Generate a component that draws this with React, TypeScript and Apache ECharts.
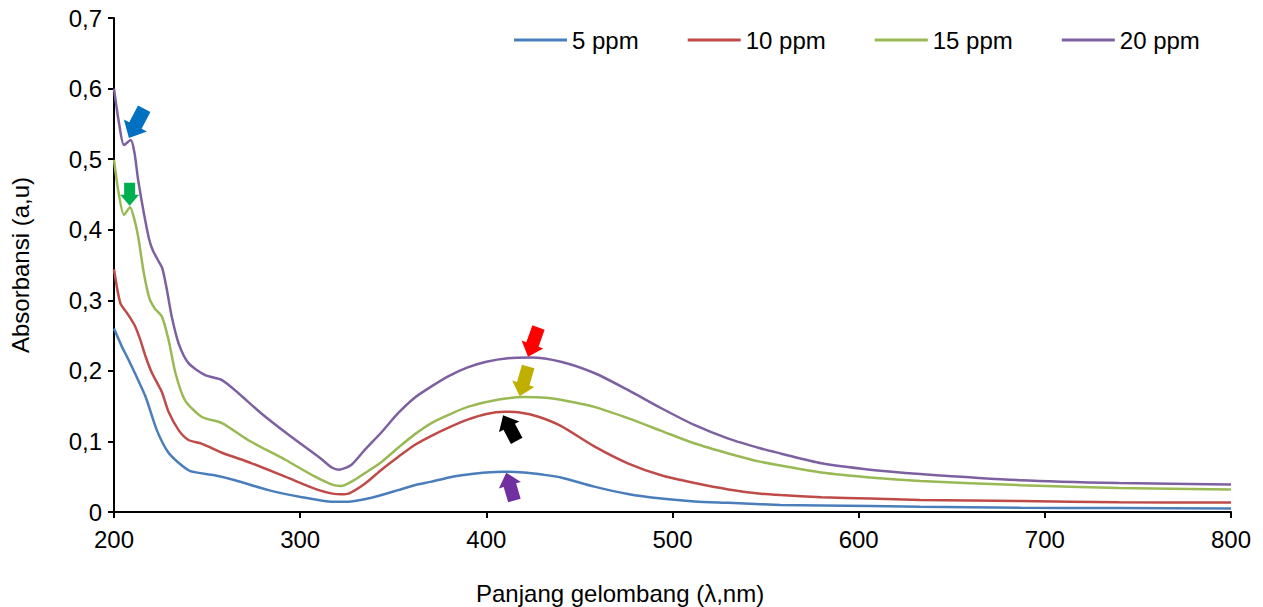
import React, { useEffect, useRef } from "react";
import * as echarts from "echarts";

// Wavelength (nm), absorbance (a.u.) pairs
const ppm5: [number, number][] = [
  [200, 0.26], [204.3, 0.234], [207, 0.22], [211, 0.198], [217, 0.163], [223, 0.116],
  [229, 0.085], [235, 0.069], [241, 0.058], [254, 0.052], [265, 0.045], [283, 0.031],
  [301, 0.021], [317, 0.0145], [326, 0.0145], [334.7, 0.018], [343.7, 0.024], [352.6, 0.031],
  [361.5, 0.038], [370.5, 0.043], [380, 0.049], [390, 0.053], [400, 0.056], [410, 0.057],
  [420, 0.056], [430, 0.053], [440, 0.049], [458, 0.036], [476, 0.0255], [494, 0.019],
  [512, 0.015], [530, 0.013], [547.5, 0.011], [558, 0.01], [580, 0.0093], [633, 0.0075],
  [687, 0.006], [740, 0.0055], [800, 0.005],
];
const ppm10: [number, number][] = [
  [200, 0.344], [203.4, 0.296], [207, 0.282], [211, 0.265], [214, 0.245], [217, 0.22],
  [220.4, 0.197], [225.7, 0.17], [229.3, 0.142], [234.7, 0.116], [240, 0.102], [247, 0.097],
  [258, 0.084], [274, 0.069], [292, 0.05], [310, 0.031], [322, 0.025], [326, 0.026],
  [334.7, 0.04], [343.7, 0.06], [352.6, 0.078], [361.5, 0.095], [370.5, 0.108], [380, 0.12],
  [390, 0.131], [400, 0.139], [410, 0.142], [418, 0.141], [428, 0.135], [440, 0.122],
  [458, 0.093], [476, 0.069], [494, 0.052], [512, 0.041], [530, 0.032], [547.5, 0.026],
  [558, 0.024], [580, 0.021], [606, 0.019], [633, 0.017], [687, 0.0156], [740, 0.0137],
  [800, 0.0135],
];
const ppm15: [number, number][] = [
  [200, 0.499], [202.5, 0.452], [205.4, 0.421], [208.6, 0.432], [211, 0.414], [213, 0.39],
  [216, 0.339], [219, 0.303], [222, 0.288], [225.7, 0.277], [229.3, 0.244], [233, 0.197],
  [238, 0.159], [247, 0.135], [258, 0.126], [272, 0.102], [292, 0.074], [308, 0.05],
  [318, 0.038], [322, 0.037], [327.6, 0.043], [334.7, 0.055], [343.7, 0.071], [352.6, 0.091],
  [361.5, 0.11], [370.5, 0.126], [380, 0.138], [390, 0.149], [406, 0.159], [420, 0.163],
  [432, 0.162], [440, 0.159], [458, 0.149], [476, 0.133], [494, 0.115], [512, 0.097],
  [530, 0.083], [547.5, 0.071], [558, 0.066], [580, 0.056], [606, 0.049], [633, 0.044],
  [687, 0.038], [740, 0.034], [800, 0.032],
];
const ppm20: [number, number][] = [
  [200, 0.6], [202.7, 0.551], [205.4, 0.52], [209, 0.527], [211, 0.509], [213, 0.47],
  [216, 0.424], [219, 0.385], [221, 0.37], [224, 0.355], [226, 0.345], [228.4, 0.315],
  [231, 0.277], [234.7, 0.239], [240, 0.211], [249, 0.194], [258, 0.187], [267, 0.168],
  [279, 0.14], [295, 0.107], [310, 0.078], [317, 0.063], [321, 0.06], [327.6, 0.067],
  [334.7, 0.088], [343.7, 0.113], [352.6, 0.14], [361.5, 0.162], [370.5, 0.178],
  [380, 0.193], [390, 0.205], [400, 0.213], [411.6, 0.218], [424, 0.219], [440, 0.213],
  [458, 0.197], [476, 0.173], [494, 0.147], [512, 0.123], [530, 0.104], [547.5, 0.09],
  [558, 0.083], [580, 0.069], [606, 0.06], [633, 0.054], [687, 0.045], [740, 0.041],
  [800, 0.039],
];

const seriesNames = ["5 ppm", "10 ppm", "15 ppm", "20 ppm"];
const seriesData = [ppm5, ppm10, ppm15, ppm20];
const seriesColors = ["#4A7EBB", "#BE4B48", "#98B954", "#7D60A0"];

const xTicks = { min: 200, max: 800, interval: 100 };
const yTicks = { min: 0, max: 0.7, interval: 0.1 };

// Arrow annotations: tip in data coordinates, tip->tail direction in screen px
const arrowTips: [number, number][] = [
  [208, 0.53], [208.4, 0.434], [422.4, 0.22], [417.9, 0.164], [409, 0.137], [410.7, 0.0557],
];
const arrowDirs: [number, number][] = [
  [15, -28.6], [0, -1], [10.3, -28.7], [8.4, -29.3], [13.3, 25], [8, 27.3],
];
const arrowColors = ["#0070C0", "#00B050", "#FF0000", "#BFB000", "#000000", "#7030A0"];
const arrowSizes = [
  { len: 33, headLen: 14, headW: 26, shaftW: 14 },
  { len: 23, headLen: 11, headW: 19, shaftW: 11 },
  { len: 31, headLen: 13, headW: 23, shaftW: 13 },
  { len: 31, headLen: 13, headW: 23, shaftW: 13 },
  { len: 29, headLen: 13, headW: 23, shaftW: 13 },
  { len: 29, headLen: 13, headW: 23, shaftW: 13 },
];

const FONT = "'Liberation Sans', Arial, sans-serif";

function arrowPoints(tip: number[], dir: number[], s: { len: number; headLen: number; headW: number; shaftW: number }) {
  const l = Math.hypot(dir[0], dir[1]);
  const ux = dir[0] / l; // toward tail
  const uy = dir[1] / l;
  const px = -uy;
  const py = ux;
  const bx = tip[0] + ux * s.headLen;
  const by = tip[1] + uy * s.headLen;
  const tx = tip[0] + ux * s.len;
  const ty = tip[1] + uy * s.len;
  const hw = s.headW / 2;
  const sw = s.shaftW / 2;
  return [
    [tip[0], tip[1]],
    [bx + px * hw, by + py * hw],
    [bx + px * sw, by + py * sw],
    [tx + px * sw, ty + py * sw],
    [tx - px * sw, ty - py * sw],
    [bx - px * sw, by - py * sw],
    [bx - px * hw, by - py * hw],
  ];
}

export default function App() {
  const ref = useRef<HTMLDivElement>(null);
  useEffect(() => {
    if (!ref.current) return;
    const chart = echarts.init(ref.current, undefined, { renderer: "svg" });
    chart.setOption({
      animation: false,
      backgroundColor: "#ffffff",
      textStyle: { fontFamily: FONT },
      title: {
        text: "Panjang gelombang (λ,nm)",
        left: 476,
        top: 581,
        padding: 0,
        textStyle: { fontFamily: FONT, fontSize: 24, fontWeight: "normal", color: "#000" },
      },
      legend: {
        data: seriesNames,
        left: 514,
        top: 28,
        itemWidth: 53,
        itemHeight: 3,
        itemGap: 49,
        icon: "rect",
        padding: 0,
        textStyle: { fontFamily: FONT, fontSize: 24, color: "#000" },
      },
      grid: { left: 112, right: 32, top: 18, bottom: 95, containLabel: false },
      xAxis: {
        type: "value",
        min: xTicks.min,
        max: xTicks.max,
        interval: xTicks.interval,
        axisLine: { lineStyle: { color: "#000", width: 2 } },
        axisTick: { show: true, length: 6, lineStyle: { color: "#000", width: 2 } },
        axisLabel: { margin: 15, fontSize: 24, color: "#000", fontFamily: FONT },
        splitLine: { show: false },
      },
      yAxis: {
        type: "value",
        min: yTicks.min,
        max: yTicks.max,
        interval: yTicks.interval,
        name: "Absorbansi (a,u)",
        nameLocation: "middle",
        nameGap: 82,
        nameTextStyle: { fontSize: 24, color: "#000", fontFamily: FONT },
        axisLine: { show: true, lineStyle: { color: "#000", width: 2 } },
        axisTick: { show: true, length: 6, lineStyle: { color: "#000", width: 2 } },
        axisLabel: {
          margin: 12,
          fontSize: 24,
          color: "#000",
          fontFamily: FONT,
          formatter: (v: number) => (v === 0 ? "0" : v.toFixed(1).replace(".", ",")),
        },
        splitLine: { show: false },
      },
      series: seriesData.map((d, i) => ({
        name: seriesNames[i],
        type: "line",
        data: d,
        showSymbol: false,
        symbol: "none",
        smooth: 0.25,
        color: seriesColors[i],
        lineStyle: { width: 2.5, color: seriesColors[i] },
      })),
    });

    const graphics = arrowTips.map((t, i) => {
      const p = chart.convertToPixel({ gridIndex: 0 }, t) as number[];
      return {
        type: "polygon",
        shape: { points: arrowPoints(p, arrowDirs[i], arrowSizes[i]) },
        style: { fill: arrowColors[i] },
        z: 100,
      };
    });
    chart.setOption({ graphic: graphics });

    return () => chart.dispose();
  }, []);
  return (
    <div
      ref={ref}
      style={{ position: "fixed", left: 0, top: 0, width: 1263, height: 607 }}
    />
  );
}
